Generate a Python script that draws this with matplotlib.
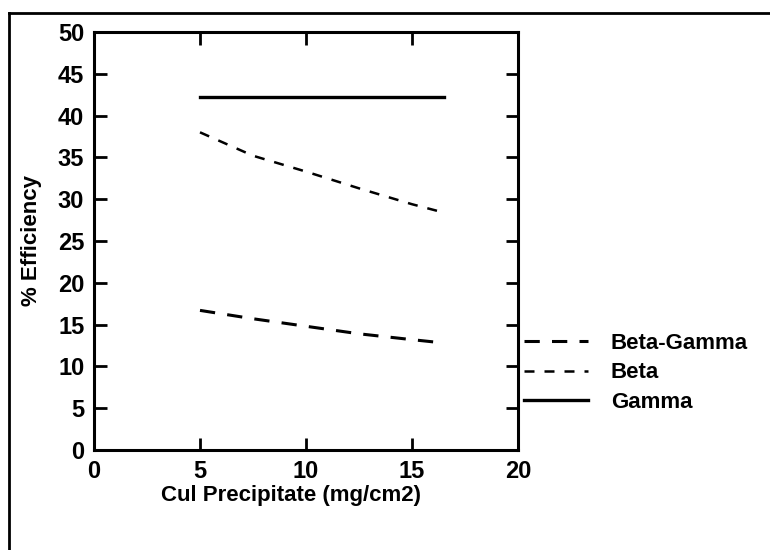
import matplotlib
matplotlib.use("Agg")
import matplotlib.pyplot as plt
from matplotlib.lines import Line2D

plt.rcParams['font.family'] = ['Liberation Sans', 'DejaVu Sans']

# Data
precipitate = [5, 7.5, 10, 12.5, 15, 16.5]
beta_gamma = [16.7, 15.7, 14.8, 13.9, 13.2, 12.8]
beta = [38.0, 35.2, 33.3, 31.3, 29.4, 28.4]
gamma = [42.2, 42.2, 42.2, 42.2, 42.2, 42.2]

x_ticks = [0, 5, 10, 15, 20]
y_ticks = [0, 5, 10, 15, 20, 25, 30, 35, 40, 45, 50]

W, H = 770, 550
fig = plt.figure(figsize=(W / 100, H / 100), dpi=100)
fig.patch.set_facecolor('white')

ax = fig.add_axes([94 / W, (H - 450) / H, (518 - 94) / W, (450 - 32) / H])

l_bg, = ax.plot(precipitate, beta_gamma, color='black', lw=2.2,
                linestyle=(0, (5, 4)), label='Beta-Gamma')
l_b, = ax.plot(precipitate, beta, color='black', lw=1.8,
               linestyle=(0, (4, 4)), label='Beta')
l_g, = ax.plot(precipitate, gamma, color='black', lw=2.4,
               linestyle='-', label='Gamma')

ax.set_xlim(0, 20)
ax.set_ylim(0, 50)
ax.set_xticks(x_ticks)
ax.set_yticks(y_ticks)
ax.tick_params(direction='in', length=9, width=2, top=True, right=True,
               labelsize=17, pad=7)
for lab in ax.get_xticklabels() + ax.get_yticklabels():
    lab.set_fontweight('bold')
for sp in ax.spines.values():
    sp.set_linewidth(2.2)

ax.set_ylabel('% Efficiency', fontsize=16, fontweight='bold')
ax.yaxis.set_label_coords((42 - 94) / (518 - 94), 0.5)
fig.text(291 / W, 1 - 495 / H, 'Cul Precipitate (mg/cm2)',
         ha='center', va='center', fontsize=16, fontweight='bold')

leg = ax.legend(handles=[l_bg, l_b, l_g], loc='upper left',
                bbox_to_anchor=(524 / W, 1 - 333 / H),
                bbox_transform=fig.transFigure, frameon=False,
                prop={'size': 16, 'weight': 'bold'},
                handlelength=2.9, handletextpad=1.0,
                labelspacing=0.38, borderaxespad=0, borderpad=0)

# Outer frame lines (top and left)
fig.add_artist(Line2D([9 / W, 1.0], [1 - 13 / H, 1 - 13 / H],
                      transform=fig.transFigure, color='black', lw=2))
fig.add_artist(Line2D([9 / W, 9 / W], [1 - 13 / H, 0.0],
                      transform=fig.transFigure, color='black', lw=2))

fig.savefig('out.png', dpi=100, facecolor='white')
